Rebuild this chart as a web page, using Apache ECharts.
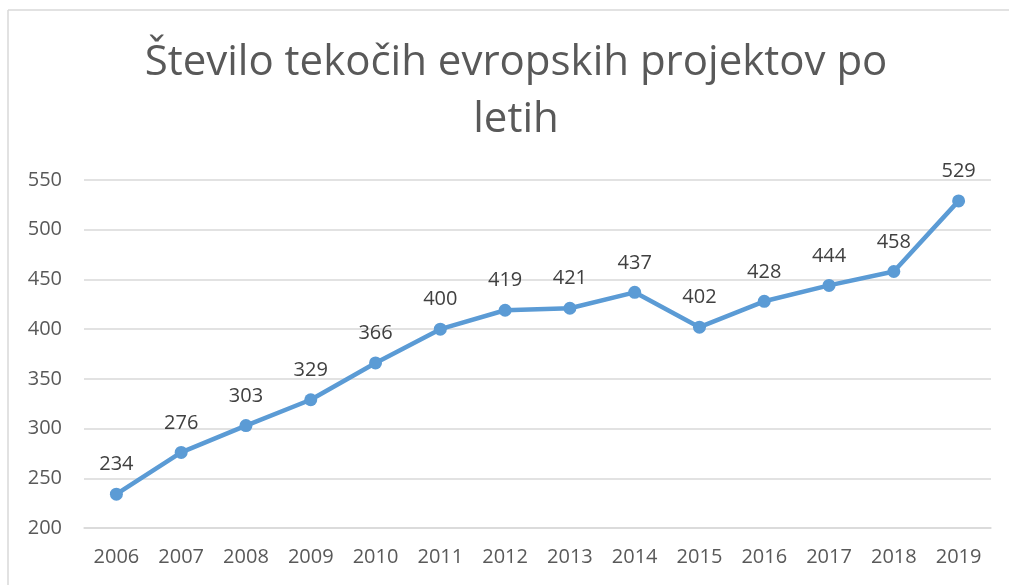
<!DOCTYPE html>
<html>
<head>
<meta charset="utf-8">
<script src="https://cdn.jsdelivr.net/npm/echarts@6/dist/echarts.min.js"></script>
<style>html,body{margin:0;padding:0;background:#fff;overflow:hidden}#c{width:1009px;height:585px}</style>
</head>
<body>
<div id="c"></div>
<script>
const years = ['2006','2007','2008','2009','2010','2011','2012','2013','2014','2015','2016','2017','2018','2019'];
const projects = [234,276,303,329,366,400,419,421,437,402,428,444,458,529];
const titleText = 'Število tekočih evropskih projektov po\nletih';
const font = '"Open Sans", "Noto Sans", sans-serif';

const chart = echarts.init(document.getElementById('c'), null, {renderer:'canvas'});
chart.setOption({
  animation: false,
  backgroundColor: '#fff',
  graphic: [
    {type: 'line', shape: {x1: 8, y1: 10, x2: 8, y2: 585}, style: {stroke: '#d9d9d9', lineWidth: 1.5}, silent: true, z: -1},
    {type: 'line', shape: {x1: 8, y1: 10, x2: 1009, y2: 10}, style: {stroke: '#d9d9d9', lineWidth: 1.5}, silent: true, z: -1}
  ],
  title: {
    text: titleText,
    left: 511, top: 30, textAlign: 'center',
    textStyle: {fontFamily: font, fontSize: 42, fontWeight: 'normal', color: '#595959', lineHeight: 57}
  },
  grid: {left: 84, right: 18, top: 180, bottom: 57},
  xAxis: {
    type: 'category', data: years, boundaryGap: true,
    axisLine: {show: true, lineStyle: {color: '#d9d9d9', width: 1.5}},
    axisTick: {show: false},
    axisLabel: {fontFamily: font, fontSize: 20, color: '#595959', margin: 19}
  },
  yAxis: {
    type: 'value', min: 200, max: 550, interval: 50,
    axisLine: {show: false}, axisTick: {show: false},
    axisLabel: {fontFamily: font, fontSize: 20, color: '#595959', margin: 22},
    splitLine: {lineStyle: {color: '#d9d9d9', width: 1.5}}
  },
  series: [{
    type: 'line', data: projects,
    symbol: 'circle', symbolSize: 13,
    lineStyle: {color: '#5b9bd5', width: 4.5},
    itemStyle: {color: '#5b9bd5'},
    label: {show: true, position: 'top', distance: 13, fontFamily: font, fontSize: 20, color: '#404040'}
  }]
});
</script>
</body>
</html>
